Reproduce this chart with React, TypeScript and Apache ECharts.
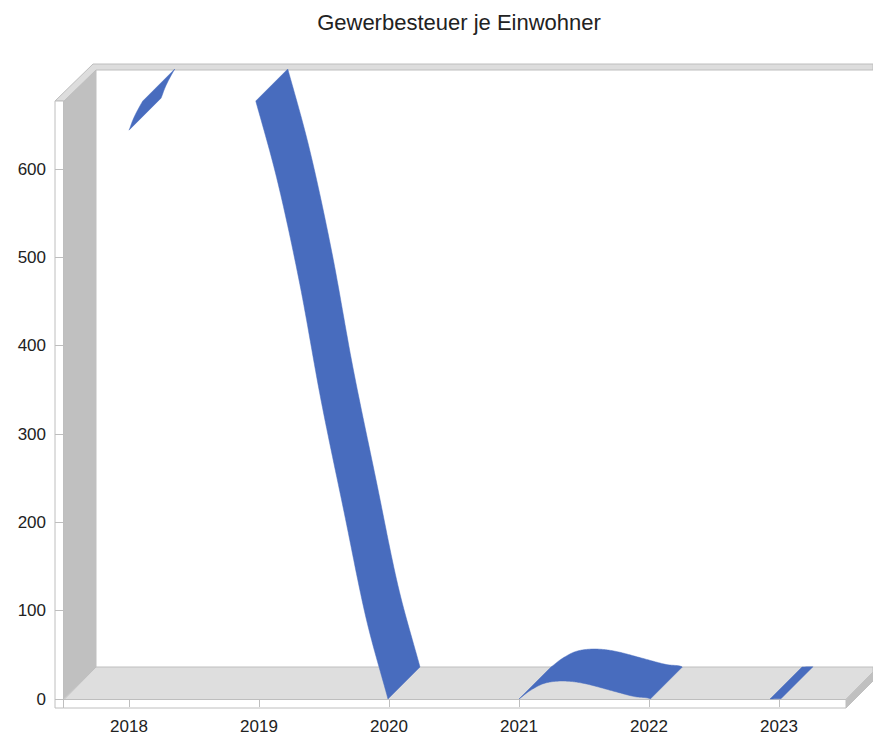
import React, { useEffect, useRef } from "react";
import * as echarts from "echarts";

const titleText = "Gewerbesteuer je Einwohner";
const yearLabels = ["2018", "2019", "2020", "2021", "2022", "2023"];
const yTickStep = 100;
const yMax = 677;

// Front edge of the ribbon (fractional year, value).
const curveYears = [
  2018.0, 2018.11, 2018.55, 2018.82, 2018.977, 2019.146, 2019.315, 2019.477, 2019.654, 2019.823,
  2019.992, 2020.092, 2020.9, 2021.0, 2021.08, 2021.18, 2021.28, 2021.39, 2021.52, 2021.7,
  2021.88, 2022.01, 2022.06, 2022.7, 2022.915, 2022.931, 2023.015,
];
const curveValues = [
  644, 678, 780, 757, 676, 584, 469, 338.5, 212, 92,
  0, -58, -10, 0, 9, 17, 20, 20, 17, 10,
  3, 0, -12, -3.4, -0.7, 0, 0.3,
];

const depth = 32;
const ribbonColor = "#486CBE";
const wallColor = "#C0C0C0";
const floorColor = "#DEDEDE";
const edgeColor = "#BEBEBE";

function sampleSpline(pts: number[][]): number[][] {
  const out: number[][] = [];
  for (let i = 0; i < pts.length - 1; i++) {
    const p0 = pts[Math.max(i - 1, 0)];
    const p1 = pts[i];
    const p2 = pts[i + 1];
    const p3 = pts[Math.min(i + 2, pts.length - 1)];
    for (let k = 0; k < 16; k++) {
      const t = k / 16;
      const t2 = t * t;
      const t3 = t2 * t;
      out.push(
        [0, 1].map(
          (d) =>
            0.5 *
            (2 * p1[d] +
              (p2[d] - p0[d]) * t +
              (2 * p0[d] - 5 * p1[d] + 4 * p2[d] - p3[d]) * t2 +
              (3 * p1[d] - p0[d] - 3 * p2[d] + p3[d]) * t3)
        )
      );
    }
  }
  out.push(pts[pts.length - 1]);
  return out;
}

// Splits the sampled edge where it leaves the band between the two y limits.
function clipRuns(line: number[][], top: number, bottom: number): number[][][] {
  const runs: number[][][] = [];
  let run: number[][] = [];
  const inside = (p: number[]) => p[1] >= top && p[1] <= bottom;
  const cross = (a: number[], b: number[]) => {
    const lim = a[1] < top || b[1] < top ? top : bottom;
    const t = (lim - a[1]) / (b[1] - a[1]);
    return [a[0] + (b[0] - a[0]) * t, lim];
  };
  line.forEach((p, i) => {
    const prev = line[i - 1];
    if (inside(p)) {
      if (prev && !inside(prev)) run.push(cross(prev, p));
      run.push(p);
    } else if (prev && inside(prev)) {
      run.push(cross(prev, p));
      runs.push(run);
      run = [];
    }
  });
  if (run.length) runs.push(run);
  return runs;
}

export default function App() {
  const ref = useRef<HTMLDivElement>(null);

  useEffect(() => {
    document.body.style.margin = "0";
    const chart = echarts.init(ref.current!, undefined, { renderer: "svg" });
    const poly = (points: number[][], fill: string, stroke?: string) => ({
      type: "polygon",
      z: -1,
      shape: { points },
      style: { fill, stroke: stroke ?? fill, lineWidth: 1 },
    });
    chart.setOption({
      animation: false,
      backgroundColor: "#ffffff",
      textStyle: { fontFamily: "'Liberation Sans', Arial, sans-serif" },
      title: {
        text: titleText,
        left: 454,
        top: 6,
        textAlign: "center",
        textStyle: { fontSize: 22, fontWeight: "normal", color: "#222222", fontFamily: "'Liberation Sans', Arial, sans-serif" },
      },
      grid: { left: 64, right: 29, top: 101, bottom: 39 },
      xAxis: [
        {
          type: "category",
          data: yearLabels,
          boundaryGap: true,
          axisLine: { show: false },
          axisTick: { show: true, alignWithLabel: true, length: 8, lineStyle: { color: edgeColor } },
          axisLabel: { margin: 19, fontSize: 17, color: "#222222" },
          splitLine: { show: false },
        },
        { type: "value", show: false, min: 2017.5, max: 2023.5 },
      ],
      yAxis: {
        type: "value",
        min: 0,
        max: yMax,
        interval: yTickStep,
        axisLine: { show: false },
        axisTick: { show: true, length: 9, lineStyle: { color: edgeColor } },
        axisLabel: { margin: 18, fontSize: 17, color: "#222222", showMaxLabel: false },
        splitLine: { show: false },
      },
      graphic: {
        elements: [
          poly([[63.5, 101], [96, 70], [96, 667], [63.5, 699]], wallColor),
          poly([[55, 101], [64, 101], [96, 70], [873, 70], [873, 64], [93, 64]], "#DDDDDD", edgeColor),
          poly([[64, 699.5], [96, 667], [873, 667], [873, 672], [846, 699.5]], floorColor, edgeColor),
          poly([[846, 699.5], [873, 672], [873, 681], [846, 708]], wallColor),
          { type: "rect", z: -1, shape: { x: 55, y: 101, width: 8.5, height: 607 }, style: { fill: "#fff", stroke: edgeColor } },
          { type: "rect", z: -1, shape: { x: 63.5, y: 699.5, width: 782.5, height: 8.5 }, style: { fill: "#fff", stroke: edgeColor } },
        ],
      },
      series: [
        {
          type: "custom",
          coordinateSystem: "cartesian2d",
          xAxisIndex: 1,
          yAxisIndex: 0,
          z: 5,
          clip: false,
          encode: { x: 0, y: 1 },
          data: curveYears.map((y, i) => [y, curveValues[i]]),
          renderItem: (params: any, api: any) => {
            if (params.dataIndex !== 0) return null;
            const pts = curveYears.map((y, i) => api.coord([y, curveValues[i]]));
            const top = api.coord([2018, yMax])[1];
            const bottom = api.coord([2018, 0])[1];
            const runs = clipRuns(sampleSpline(pts), top, bottom);
            return {
              type: "group",
              children: runs.map((run) => ({
                type: "polygon",
                shape: {
                  points: run.concat(
                    run.map((p) => [p[0] + depth, p[1] - depth]).reverse()
                  ),
                },
                style: { fill: ribbonColor, stroke: ribbonColor, lineWidth: 0.5 },
              })),
            };
          },
        },
      ],
    });
    return () => chart.dispose();
  }, []);

  return <div ref={ref} style={{ width: 873, height: 738 }} />;
}
